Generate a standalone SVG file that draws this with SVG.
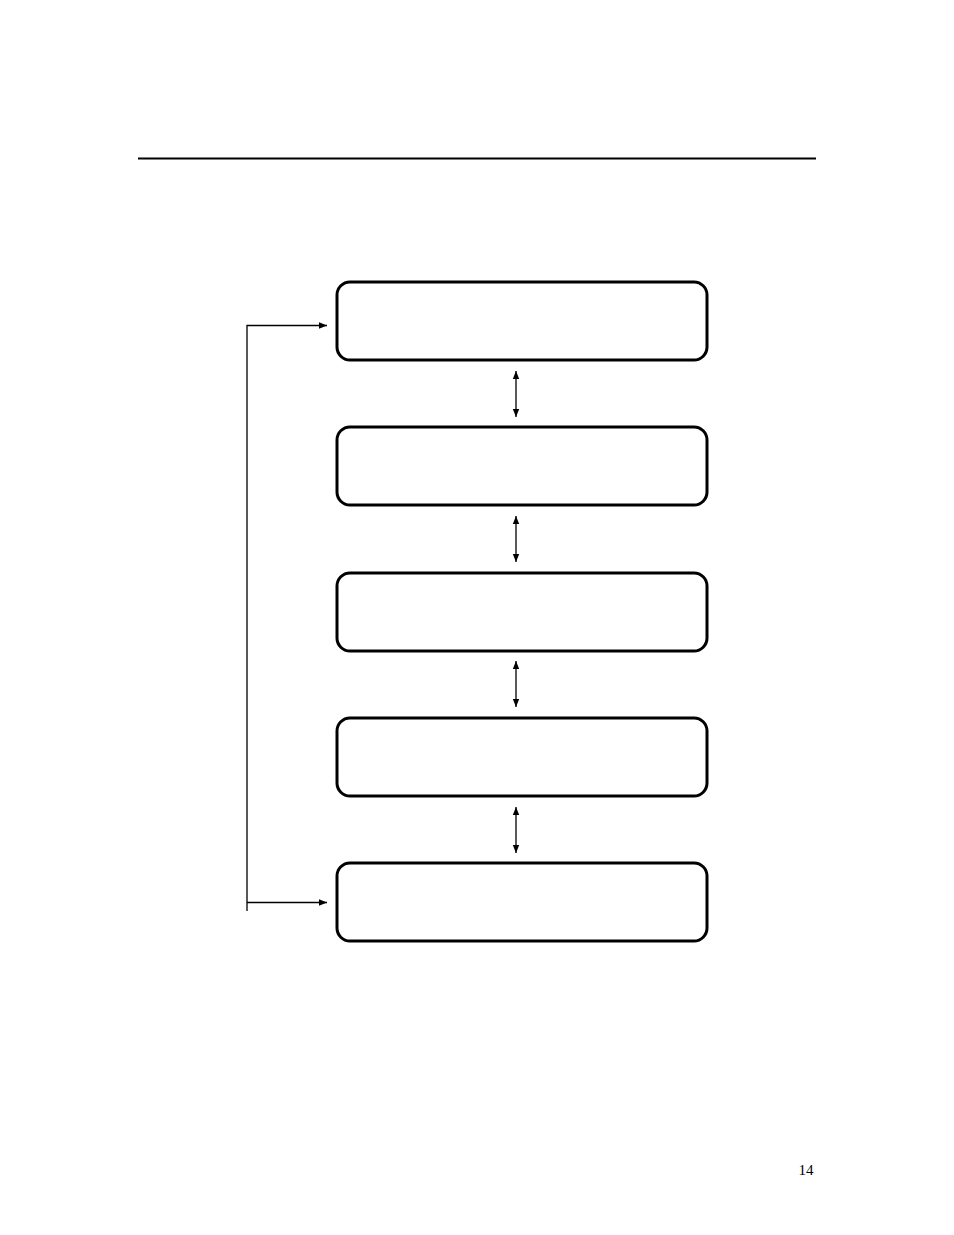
<svg xmlns="http://www.w3.org/2000/svg" width="954" height="1235" viewBox="0 0 954 1235">
<style>
.box{fill:#fff;stroke:#000;stroke-width:3}
.ln{stroke:#000;stroke-width:1.3;fill:none}
</style>
<defs>
<marker id="ah" viewBox="0 0 10 10" refX="10" refY="5" markerWidth="8" markerHeight="8" markerUnits="userSpaceOnUse" orient="auto-start-reverse">
<path d="M0,1 L10,5 L0,9 z" fill="#000"/>
</marker>
</defs>
<rect width="954" height="1235" fill="#fff"/>
<line x1="138" y1="158.5" x2="816" y2="158.5" stroke="#000" stroke-width="2.2"/>
<g id="n1"><rect class="box" x="337" y="282" width="370" height="78" rx="13"/></g>
<g id="n2"><rect class="box" x="337" y="427" width="370" height="78" rx="13"/></g>
<g id="n3"><rect class="box" x="337" y="573" width="370" height="78" rx="13"/></g>
<g id="n4"><rect class="box" x="337" y="718" width="370" height="78" rx="13"/></g>
<g id="n5"><rect class="box" x="337" y="863" width="370" height="78" rx="13"/></g>
<g id="connectors">
<line class="ln" x1="516" y1="371" x2="516" y2="417" marker-start="url(#ah)" marker-end="url(#ah)"/>
<line class="ln" x1="516" y1="516" x2="516" y2="562" marker-start="url(#ah)" marker-end="url(#ah)"/>
<line class="ln" x1="516" y1="661" x2="516" y2="707" marker-start="url(#ah)" marker-end="url(#ah)"/>
<line class="ln" x1="516" y1="807" x2="516" y2="853" marker-start="url(#ah)" marker-end="url(#ah)"/>
<polyline class="ln" points="247,911 247,325.5 327,325.5" marker-end="url(#ah)"/>
<line class="ln" x1="247" y1="902.5" x2="327" y2="902.5" marker-end="url(#ah)"/>
</g>
<text x="806" y="1175" font-family="Liberation Serif, serif" font-size="15" text-anchor="middle" fill="#000">14</text>
</svg>
